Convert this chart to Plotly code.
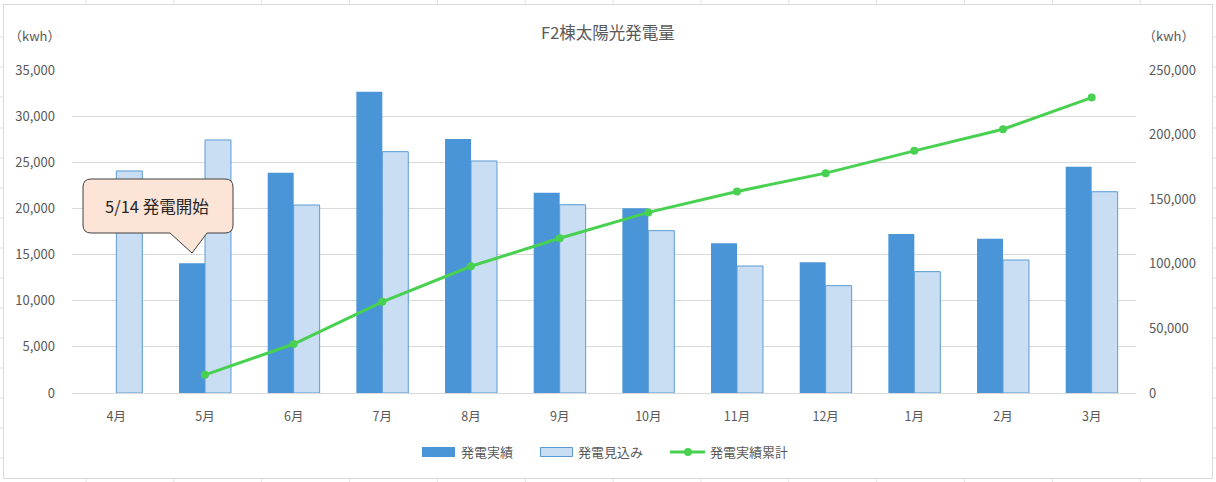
import plotly.graph_objects as go

# ---- data ----
months = ["4月", "5月", "6月", "7月", "8月", "9月", "10月", "11月", "12月", "1月", "2月", "3月"]
actual = [None, 14050, 23870, 32650, 27520, 21700, 20010, 16220, 14160, 17230, 16720, 24520]
forecast = [24060, 27420, 20370, 26150, 25140, 20400, 17590, 13760, 11630, 13150, 14410, 21810]
cum_months = ["5月", "6月", "7月", "8月", "9月", "10月", "11月", "12月", "1月", "2月", "3月"]
cumulative = [14050, 37920, 70570, 98090, 119790, 139800, 156020, 170180, 187410, 204130, 228650]
left_ticks = [0, 5000, 10000, 15000, 20000, 25000, 30000, 35000]
right_ticks = [0, 50000, 100000, 150000, 200000, 250000]

title_text = "F2棟太陽光発電量"
unit_text = "（kwh）"
callout_text = "5/14 発電開始"
legend_names = ["発電実績", "発電見込み", "発電実績累計"]

# ---- layout geometry (pixels) ----
W, H = 1216, 482
L, R, T, B = 72, 1136, 70, 393
FONT = "Noto Sans CJK JP"
GREY = "#595959"
DARK = "#4A94D8"
LIGHT = "#C9DDF3"
LIGHT_EDGE = "#5B9BD5"
GREEN = "#48D150"


def px(x):
    return (x - L) / (R - L)


def py(y):
    return (B - y) / (B - T)


fig = go.Figure()
fig.add_trace(go.Bar(x=months, y=actual, name=legend_names[0], marker=dict(color=DARK, line=dict(width=0)),
                     showlegend=False))
fig.add_trace(go.Bar(x=months, y=forecast, name=legend_names[1],
                     marker=dict(color=LIGHT, line=dict(color=LIGHT_EDGE, width=1)),
                     showlegend=False))
fig.add_trace(go.Scatter(x=cum_months, y=cumulative, name=legend_names[2], yaxis="y2", mode="lines+markers",
                         line=dict(color=GREEN, width=3), marker=dict(color=GREEN, size=8), showlegend=False))

shapes = []
# spreadsheet grid outside the chart
k = 0
while 86 + 87.85 * k < W:
    xv = 86 + 87.85 * k
    shapes.append(dict(type="line", xref="paper", yref="paper", x0=px(xv), x1=px(xv), y0=py(0), y1=py(H),
                       line=dict(color="#E3E3E3", width=1), layer="below"))
    k += 1
for yv in [37, 67, 97, 128, 158, 188, 218, 248, 278, 308, 338, 368, 398, 428, 458]:
    shapes.append(dict(type="line", xref="paper", yref="paper", x0=px(0), x1=px(W), y0=py(yv), y1=py(yv),
                       line=dict(color="#E3E3E3", width=1), layer="below"))
# chart border
shapes.append(dict(type="rect", xref="paper", yref="paper", x0=px(3.5), x1=px(1212.5), y0=py(4.5), y1=py(478.5),
                   fillcolor="white", line=dict(color="#D9D9D9", width=1), layer="below"))

# callout
bx0, bx1, by0, by1, r = 83, 233, 179, 233, 8
rx = r / (R - L)
ry = r / (B - T)
X0, X1, Y0, Y1 = px(bx0), px(bx1), py(by0), py(by1)
tail = [(207, 233), (192, 253), (170, 233)]
path = (f"M {X0 + rx},{Y0} L {X1 - rx},{Y0} Q {X1},{Y0} {X1},{Y0 - ry} "
        f"L {X1},{Y1 + ry} Q {X1},{Y1} {X1 - rx},{Y1} "
        f"L {px(tail[0][0])},{py(tail[0][1])} L {px(tail[1][0])},{py(tail[1][1])} L {px(tail[2][0])},{py(tail[2][1])} "
        f"L {X0 + rx},{Y1} Q {X0},{Y1} {X0},{Y1 + ry} L {X0},{Y0 - ry} Q {X0},{Y0} {X0 + rx},{Y0} Z")
shapes.append(dict(type="path", xref="paper", yref="paper", path=path, fillcolor="#FCE4D6",
                   line=dict(color="#404040", width=1)))

# legend (manual)
ly = 452
shapes.append(dict(type="rect", xref="paper", yref="paper", x0=px(422), x1=px(455), y0=py(447), y1=py(457),
                   fillcolor=DARK, line=dict(width=0)))
shapes.append(dict(type="rect", xref="paper", yref="paper", x0=px(540.5), x1=px(572.5), y0=py(447.5), y1=py(456.5),
                   fillcolor=LIGHT, line=dict(color=LIGHT_EDGE, width=1)))
shapes.append(dict(type="line", xref="paper", yref="paper", x0=px(670), x1=px(705), y0=py(ly), y1=py(ly),
                   line=dict(color=GREEN, width=3)))
shapes.append(dict(type="circle", xref="paper", yref="paper", x0=px(684), x1=px(692), y0=py(448), y1=py(456),
                   fillcolor=GREEN, line=dict(width=0)))

annotations = [
    dict(text=unit_text, xref="paper", yref="paper", x=px(35), y=py(36), showarrow=False,
         font=dict(family=FONT, size=13, color=GREY), xanchor="center", yanchor="middle"),
    dict(text=unit_text, xref="paper", yref="paper", x=px(1169), y=py(36), showarrow=False,
         font=dict(family=FONT, size=13, color=GREY), xanchor="center", yanchor="middle"),
    dict(text=callout_text, xref="paper", yref="paper", x=px(157), y=py(206), showarrow=False,
         font=dict(family=FONT, size=16.5, color="#262626"), xanchor="center", yanchor="middle"),
    dict(text=legend_names[0], xref="paper", yref="paper", x=px(459), y=py(ly), showarrow=False,
         font=dict(family=FONT, size=13, color=GREY), xanchor="left", yanchor="middle"),
    dict(text=legend_names[1], xref="paper", yref="paper", x=px(576), y=py(ly), showarrow=False,
         font=dict(family=FONT, size=13, color=GREY), xanchor="left", yanchor="middle"),
    dict(text=legend_names[2], xref="paper", yref="paper", x=px(708), y=py(ly), showarrow=False,
         font=dict(family=FONT, size=13, color=GREY), xanchor="left", yanchor="middle"),
]

fig.update_layout(
    width=W, height=H,
    margin=dict(l=L, r=W - R, t=T, b=H - B, pad=0, autoexpand=False),
    paper_bgcolor="white", plot_bgcolor="rgba(0,0,0,0)",
    font=dict(family=FONT, size=13, color=GREY),
    title=dict(text=title_text, x=0.5, xref="container", y=1 - 33 / H, yref="container",
               xanchor="center", yanchor="middle", font=dict(family=FONT, size=16.5, color=GREY)),
    barmode="group", bargap=0.414, bargroupgap=0,
    showlegend=False,
    shapes=shapes, annotations=annotations,
    xaxis=dict(type="category", categoryorder="array", categoryarray=months, showline=True,
               linecolor="#D9D9D9", linewidth=1, showgrid=False, ticks="", ticklabelstandoff=12,
               tickfont=dict(family=FONT, size=12.5, color=GREY), fixedrange=True, automargin=False,
               range=[-0.5, 11.5]),
    yaxis=dict(range=[0, 35000], tickvals=left_ticks, tickformat=",d", showgrid=True, gridcolor="#D9D9D9",
               gridwidth=1, zeroline=False, showline=False, ticks="", ticklabelstandoff=16,
               tickfont=dict(family=FONT, size=13, color=GREY), automargin=False),
    yaxis2=dict(range=[0, 250000], tickvals=right_ticks, tickformat=",d", overlaying="y", side="right",
                showgrid=False, zeroline=False, showline=False, ticks="", ticklabelstandoff=12,
                tickfont=dict(family=FONT, size=13, color=GREY), automargin=False),
)

fig.write_html("out.html")
